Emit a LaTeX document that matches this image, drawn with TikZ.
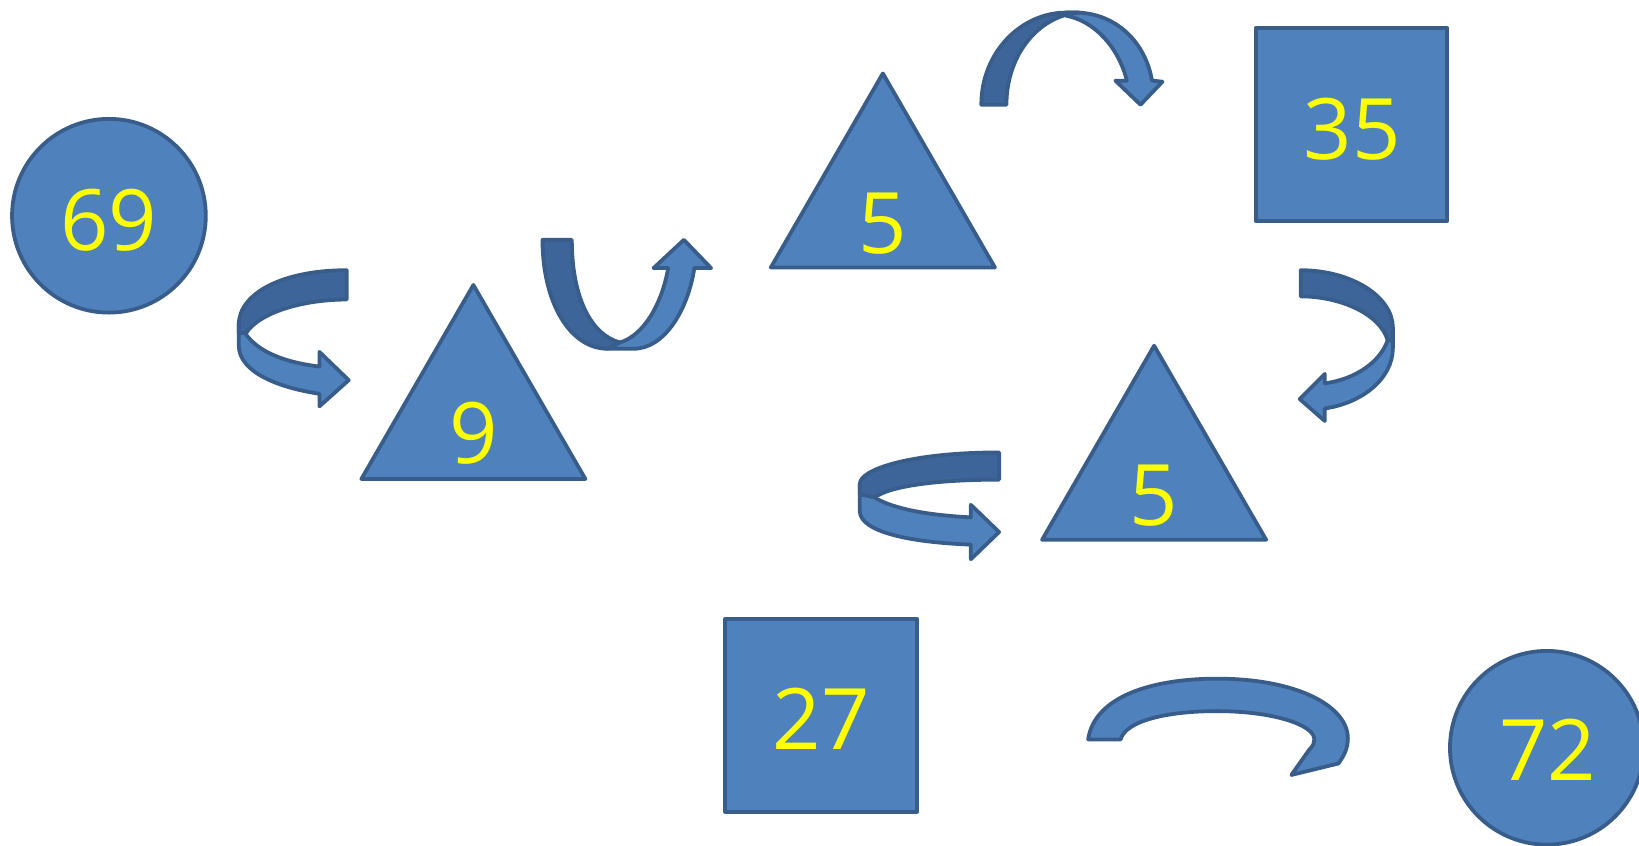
\documentclass[tikz,border=0pt]{standalone}
\usepackage{fontspec}
\setmainfont{Open Sans}
\usetikzlibrary{shapes.geometric}
\definecolor{fillA}{HTML}{4F81BD}
\definecolor{fillD}{HTML}{3E6599}
\definecolor{edgeC}{HTML}{385D8A}
\definecolor{txtY}{HTML}{FFFF00}
\tikzset{
  shp/.style={draw=edgeC, fill=fillA, line width=3.6pt, line join=round, inner sep=0pt, outer sep=0pt},
  tri/.style={shp, regular polygon, regular polygon sides=3, minimum size=247pt},
  circ/.style={shp, circle, minimum size=185pt},
  sq/.style={shp, rectangle, minimum width=183pt, minimum height=184pt},
  num/.style={text=txtY, font=\fontsize{81}{81}\selectfont, anchor=base, inner sep=0pt},
  arlight/.style={draw=edgeC, fill=fillA, line width=3.6pt, line join=round},
  ardark/.style={draw=edgeC, fill=fillD, line width=3.6pt, line join=round}
}
\begin{document}
\begin{tikzpicture}[x=1pt,y=-1pt]
\useasboundingbox (0,0) rectangle (1565,807);
\clip (0,0) rectangle (1565,807);
% shapes
\node[circ] (c69) at (104,206) {};
\node[circ] (c72) at (1477,714) {};
\node[tri] (t9) at (452,395.6) {};
\node[tri] (t5a) at (843,193.6) {};
\node[tri] (t5b) at (1102,453.6) {};
\node[sq] (s35) at (1290.5,119) {};
\node[sq] (s27) at (784,683) {};
% numbers
\node[num] (n69) at (104,239) {69};
\node[num] (n9) at (452,443) {9};
\node[num] (n5a) at (843,242) {5};
\node[num] (n35) at (1291,152) {35};
\node[num] (n5b) at (1102,502) {5};
\node[num] (n27) at (784,716) {27};
\node[num] (n72) at (1478,745) {72};
% Arrow A (left of 9)
\draw[arlight] (228,308) -- (228,330) .. controls (228,355) and (265,370) .. (305,376)
  -- (305,388) -- (333,363) -- (305,336) -- (305,350)
  .. controls (272,346) and (246,336) .. (234,318) -- cycle;
\draw[ardark] (331,258) .. controls (270,258) and (228,280) .. (228,310) -- (228,318)
  -- (235,318) .. controls (248,298) and (290,286) .. (331,286) -- cycle;
% Arrow B (U shape)
\draw[arlight] (580,333) -- (605,333) .. controls (635,333) and (657,295) .. (663,256)
  -- (679,256) -- (653,229) -- (624,256) -- (638,256)
  .. controls (632,290) and (615,320) .. (592,327) -- cycle;
\draw[ardark] (518,229) -- (546,229) .. controls (546,285) and (565,320) .. (592,327)
  -- (580,333) .. controls (545,333) and (518,290) .. (518,229) -- cycle;
% Arrow C (top arc)
\draw[arlight] (1018,12) -- (1030,12) .. controls (1068,14) and (1094,42) .. (1100,77)
  -- (1110,78) -- (1089,100) -- (1065,77) -- (1076,77)
  .. controls (1068,45) and (1045,20) .. (1018,15) -- cycle;
\draw[ardark] (937,100) .. controls (937,50) and (975,12) .. (1018,12) -- (1030,12)
  .. controls (992,15) and (961,52) .. (961,100) -- cycle;
% Arrow D (right of 35)
\draw[arlight] (1330,313) -- (1330,332) .. controls (1330,362) and (1300,385) .. (1265,390)
  -- (1265,402) -- (1241,381) -- (1265,357) -- (1265,366)
  .. controls (1295,362) and (1318,345) .. (1325,325) -- cycle;
\draw[ardark] (1242,258) .. controls (1290,258) and (1330,283) .. (1330,313) -- (1330,325)
  -- (1325,325) .. controls (1318,300) and (1280,283) .. (1242,283) -- cycle;
% Arrow E (left of lower 5)
\draw[arlight] (821,462) -- (821,488) .. controls (821,508) and (870,518) .. (927,520)
  -- (927,534) -- (954,508) -- (927,482) -- (927,494)
  .. controls (890,492) and (855,487) .. (835,475) -- cycle;
\draw[ardark] (954,432) .. controls (870,432) and (821,448) .. (821,462) -- (821,472)
  -- (835,475) .. controls (850,464) and (895,458) .. (954,458) -- cycle;
% Arrow F (bottom)
\draw[arlight] (1039,706) .. controls (1045,665) and (1100,648) .. (1162,648)
  .. controls (1240,648) and (1287,675) .. (1287,705)
  .. controls (1287,715) and (1283,722) .. (1278,729) -- (1233,740) -- (1250,716)
  .. controls (1254,712) and (1255,709) .. (1255,706)
  .. controls (1255,692) and (1215,679) .. (1162,679)
  .. controls (1115,679) and (1075,688) .. (1070,706) -- cycle;
\end{tikzpicture}
\end{document}
